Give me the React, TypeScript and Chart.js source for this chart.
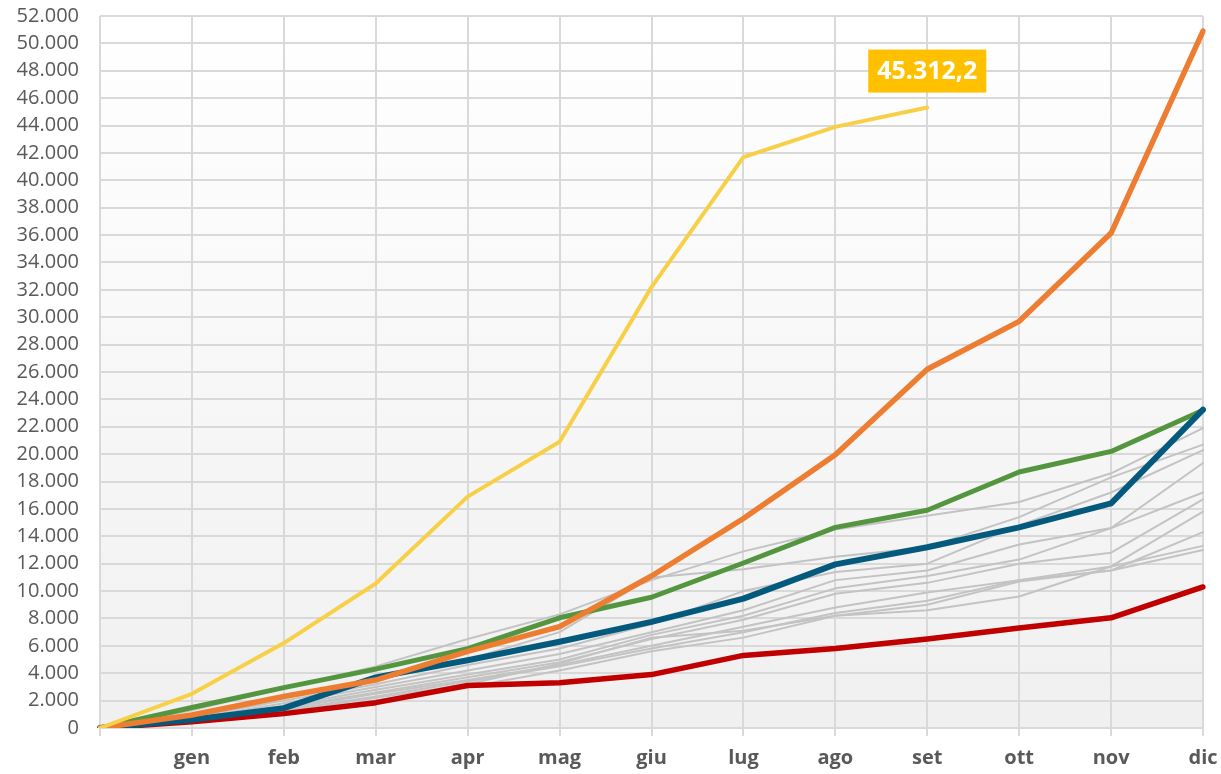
import React, { useEffect, useRef } from 'react';
import { Chart, registerables } from 'chart.js';

Chart.register(...registerables);

const months: string[] = ['', 'gen', 'feb', 'mar', 'apr', 'mag', 'giu', 'lug', 'ago', 'set', 'ott', 'nov', 'dic'];

const yellowSeries: (number | null)[] = [0, 2500, 6200, 10550, 16900, 20900, 32200, 41700, 43900, 45312.2, null, null, null];
const orangeSeries: number[] = [0, 950, 2300, 3500, 5600, 7400, 11100, 15300, 19950, 26200, 29700, 36150, 50900];
const blueSeries: number[] = [0, 600, 1450, 3700, 4950, 6300, 7750, 9450, 11950, 13200, 14650, 16400, 23250];
const greenSeries: number[] = [0, 1500, 2950, 4300, 5800, 8050, 9550, 12050, 14650, 15900, 18700, 20200, 23200];
const redSeries: number[] = [0, 450, 1050, 1850, 3100, 3300, 3900, 5300, 5800, 6500, 7300, 8050, 10300];

const grayA: number[] = [0, 1300, 2900, 4500, 6500, 8300, 10800, 12900, 14500, 15500, 16500, 18600, 21900];
const grayB: number[] = [0, 900, 2300, 3500, 5000, 7000, 11000, 11600, 12500, 13200, 15400, 18300, 20700];
const grayC: number[] = [0, 800, 2000, 3200, 4600, 5800, 7600, 10000, 11400, 12000, 14800, 17200, 20300];
const grayD: number[] = [0, 700, 1800, 3000, 4200, 5400, 7000, 8600, 10800, 11500, 13400, 14600, 19350];
const grayE: number[] = [0, 600, 1600, 2800, 3900, 5000, 6800, 8200, 10200, 11100, 12300, 14600, 17200];
const grayF: number[] = [0, 600, 1500, 2600, 3700, 4800, 6500, 7900, 9800, 10600, 12000, 12800, 16700];
const grayG: number[] = [0, 500, 1400, 2500, 3500, 4600, 6000, 7400, 8800, 9900, 10800, 11800, 15800];
const grayH: number[] = [0, 500, 1300, 2300, 3400, 4500, 5800, 7000, 8400, 9300, 10800, 11500, 14300];
const grayI: number[] = [0, 400, 1200, 2200, 3200, 4700, 6600, 7100, 8200, 8600, 9600, 11800, 13300];
const grayJ: number[] = [0, 400, 1100, 2000, 3000, 4200, 5600, 6600, 8200, 9000, 10700, 11500, 13000];

const grayLines: number[][] = [grayA, grayB, grayC, grayD, grayE, grayF, grayG, grayH, grayI, grayJ];

const yMax = 52000;
const yStep = 2000;
const calloutIndex = 9;

function fmtInt(v: number): string {
  return String(Math.round(v)).replace(/\B(?=(\d{3})+(?!\d))/g, '.');
}
function fmtDec(v: number): string {
  const intPart = Math.floor(v);
  const dec = Math.round((v - intPart) * 10);
  return fmtInt(intPart) + ',' + dec;
}

const bgPlugin = {
  id: 'bgGradient',
  beforeDraw(chart: any) {
    const { ctx, chartArea } = chart;
    if (!chartArea) return;
    const g = ctx.createLinearGradient(0, chartArea.top, 0, chartArea.bottom);
    g.addColorStop(0, '#ffffff');
    g.addColorStop(1, '#f0f0f0');
    ctx.save();
    ctx.fillStyle = g;
    ctx.fillRect(chartArea.left, chartArea.top, chartArea.right - chartArea.left, chartArea.bottom - chartArea.top);
    ctx.restore();
  },
};

const calloutPlugin = {
  id: 'callout',
  afterDatasetsDraw(chart: any) {
    const { ctx } = chart;
    const xs = chart.scales.x;
    const ys = chart.scales.y;
    const v = yellowSeries[calloutIndex] as number;
    const px = xs.getPixelForValue(calloutIndex);
    const py = ys.getPixelForValue(v);
    const text = fmtDec(v);
    ctx.save();
    ctx.font = 'bold 25px "Open Sans"';
    const w = ctx.measureText(text).width + 18;
    const h = 43;
    const bx = px - w / 2;
    const by = py - 15 - h;
    ctx.fillStyle = '#FFC000';
    ctx.fillRect(bx, by, w, h);
    ctx.fillStyle = '#ffffff';
    ctx.textAlign = 'center';
    ctx.textBaseline = 'middle';
    ctx.fillText(text, px, by + h / 2 + 1);
    ctx.restore();
  },
};

export default function App() {
  const ref = useRef<HTMLCanvasElement>(null);
  useEffect(() => {
    if (!ref.current) return;
    const datasets: any[] = [
      { data: yellowSeries, borderColor: '#F7D048', borderWidth: 4 },
      { data: orangeSeries, borderColor: '#ED7D31', borderWidth: 5.5 },
      { data: blueSeries, borderColor: '#045A7C', borderWidth: 6 },
      { data: greenSeries, borderColor: '#54963F', borderWidth: 5 },
      { data: redSeries, borderColor: '#C00000', borderWidth: 5.5 },
      ...grayLines.map((d) => ({ data: d, borderColor: '#C3C3C3', borderWidth: 2 })),
    ].map((d) => ({ ...d, pointRadius: 0, fill: false, tension: 0, spanGaps: false, borderCapStyle: 'round', borderJoinStyle: 'round' }));

    const chart = new Chart(ref.current, {
      type: 'line',
      data: { labels: months, datasets },
      options: {
        responsive: false,
        animation: false,
        layout: { padding: { top: 16, right: 18, bottom: 0, left: 0 } },
        plugins: { legend: { display: false }, tooltip: { enabled: false } },
        scales: {
          x: {
            offset: false,
            grid: { color: '#D9D9D9', lineWidth: 2, tickLength: 8, drawTicks: true },
            border: { display: false },
            ticks: {
              color: '#595959',
              font: { family: '"Open Sans"', size: 20, weight: 'bold' },
              padding: 10,
              maxRotation: 0,
              autoSkip: false,
            },
            afterFit: (s: any) => { s.height = 46; s.paddingLeft = 0; s.paddingRight = 0; },
          },
          y: {
            min: 0,
            max: yMax,
            grid: { color: '#D9D9D9', lineWidth: 2, drawTicks: false },
            border: { display: false },
            ticks: {
              stepSize: yStep,
              autoSkip: false,
              color: '#595959',
              font: { family: '"Open Sans"', size: 20 },
              padding: 21,
              callback: (v: any) => fmtInt(Number(v)),
            },
            afterFit: (s: any) => { s.width = 100; s.paddingTop = 0; s.paddingBottom = 0; },
          },
        },
      } as any,
      plugins: [bgPlugin, calloutPlugin],
    });
    return () => chart.destroy();
  }, []);
  return (
    <div style={{ position: 'fixed', left: 0, top: 0, width: 1221, height: 774, background: '#fff' }}>
      <canvas ref={ref} width={1221} height={774} />
    </div>
  );
}
